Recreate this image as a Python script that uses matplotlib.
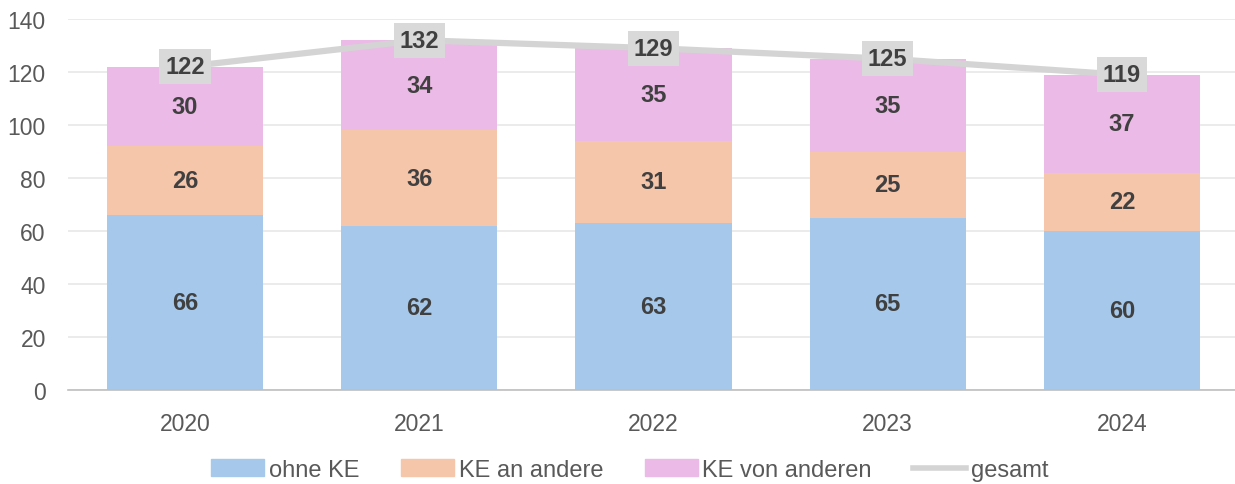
import matplotlib
matplotlib.use("Agg")
from matplotlib import pyplot as plt
from matplotlib.patches import Patch
from matplotlib.lines import Line2D
import numpy as np

plt.rcParams['font.family'] = ['Liberation Sans', 'DejaVu Sans']

years = ["2020", "2021", "2022", "2023", "2024"]
ohne_ke = [66, 62, 63, 65, 60]
ke_an_andere = [26, 36, 31, 25, 22]
ke_von_anderen = [30, 34, 35, 35, 37]
gesamt = [122, 132, 129, 125, 119]

c_blue = "#A6C8EA"
c_orange = "#F6C6AA"
c_pink = "#EBBAE6"
c_line = "#D4D4D4"
c_text = "#404040"
c_tick = "#595959"

fig = plt.figure(figsize=(12.35, 4.85), dpi=100)
# axes spans 68px .. 1239px, y 0 at 391px, 140 at 20px
ax = fig.add_axes([68 / 1235, 94 / 485, 1171 / 1235, 371 / 485])

x = np.arange(len(years))
w = 0.667
bottom2 = np.array(ohne_ke)
bottom3 = bottom2 + np.array(ke_an_andere)

ax.bar(x, ohne_ke, w, color=c_blue, zorder=2)
ax.bar(x, ke_an_andere, w, bottom=bottom2, color=c_orange, zorder=2)
ax.bar(x, ke_von_anderen, w, bottom=bottom3, color=c_pink, zorder=2)
ax.plot(x, gesamt, color=c_line, lw=4.5, zorder=3, solid_capstyle='butt')

lbl = dict(ha='center', va='center', fontsize=17, fontweight='bold', color=c_text, zorder=4)
for i in range(len(years)):
    ax.text(x[i], ohne_ke[i] / 2, str(ohne_ke[i]), **lbl)
    ax.text(x[i], bottom2[i] + ke_an_andere[i] / 2, str(ke_an_andere[i]), **lbl)
    ax.text(x[i], bottom3[i] + ke_von_anderen[i] / 2, str(ke_von_anderen[i]), **lbl)
    ax.text(x[i], gesamt[i], str(gesamt[i]),
            bbox=dict(boxstyle='square,pad=0.25', fc="#D9D9D9", ec='none'), **lbl)

ax.set_xlim(-0.5, len(years) - 0.5)
ax.set_ylim(0, 140)
ax.set_yticks(range(0, 141, 20))
ax.set_xticks(x)
ax.set_xticklabels(years)
ax.tick_params(axis='both', length=0, labelsize=16.5, colors=c_tick)
ax.tick_params(axis='x', pad=16)
ax.tick_params(axis='y', pad=16)
ax.grid(axis='y', color="#E8E8E8", lw=1.2, zorder=0)
for s in ['top', 'right', 'left']:
    ax.spines[s].set_visible(False)
ax.spines['bottom'].set_color("#BFBFBF")
ax.spines['bottom'].set_linewidth(1.2)

handles = [Patch(color=c_blue, label="ohne KE"),
           Patch(color=c_orange, label="KE an andere"),
           Patch(color=c_pink, label="KE von anderen"),
           Line2D([0], [0], color=c_line, lw=4, label="gesamt")]
leg = fig.legend(handles=handles, loc='center', bbox_to_anchor=(0.51, 0.029), ncol=4,
                 frameon=False, fontsize=17, handlelength=2.25, handleheight=0.7,
                 columnspacing=1.75, handletextpad=0.2, borderpad=0, borderaxespad=0)
for t in leg.get_texts():
    t.set_color(c_tick)

fig.savefig("out.png", dpi=100)
